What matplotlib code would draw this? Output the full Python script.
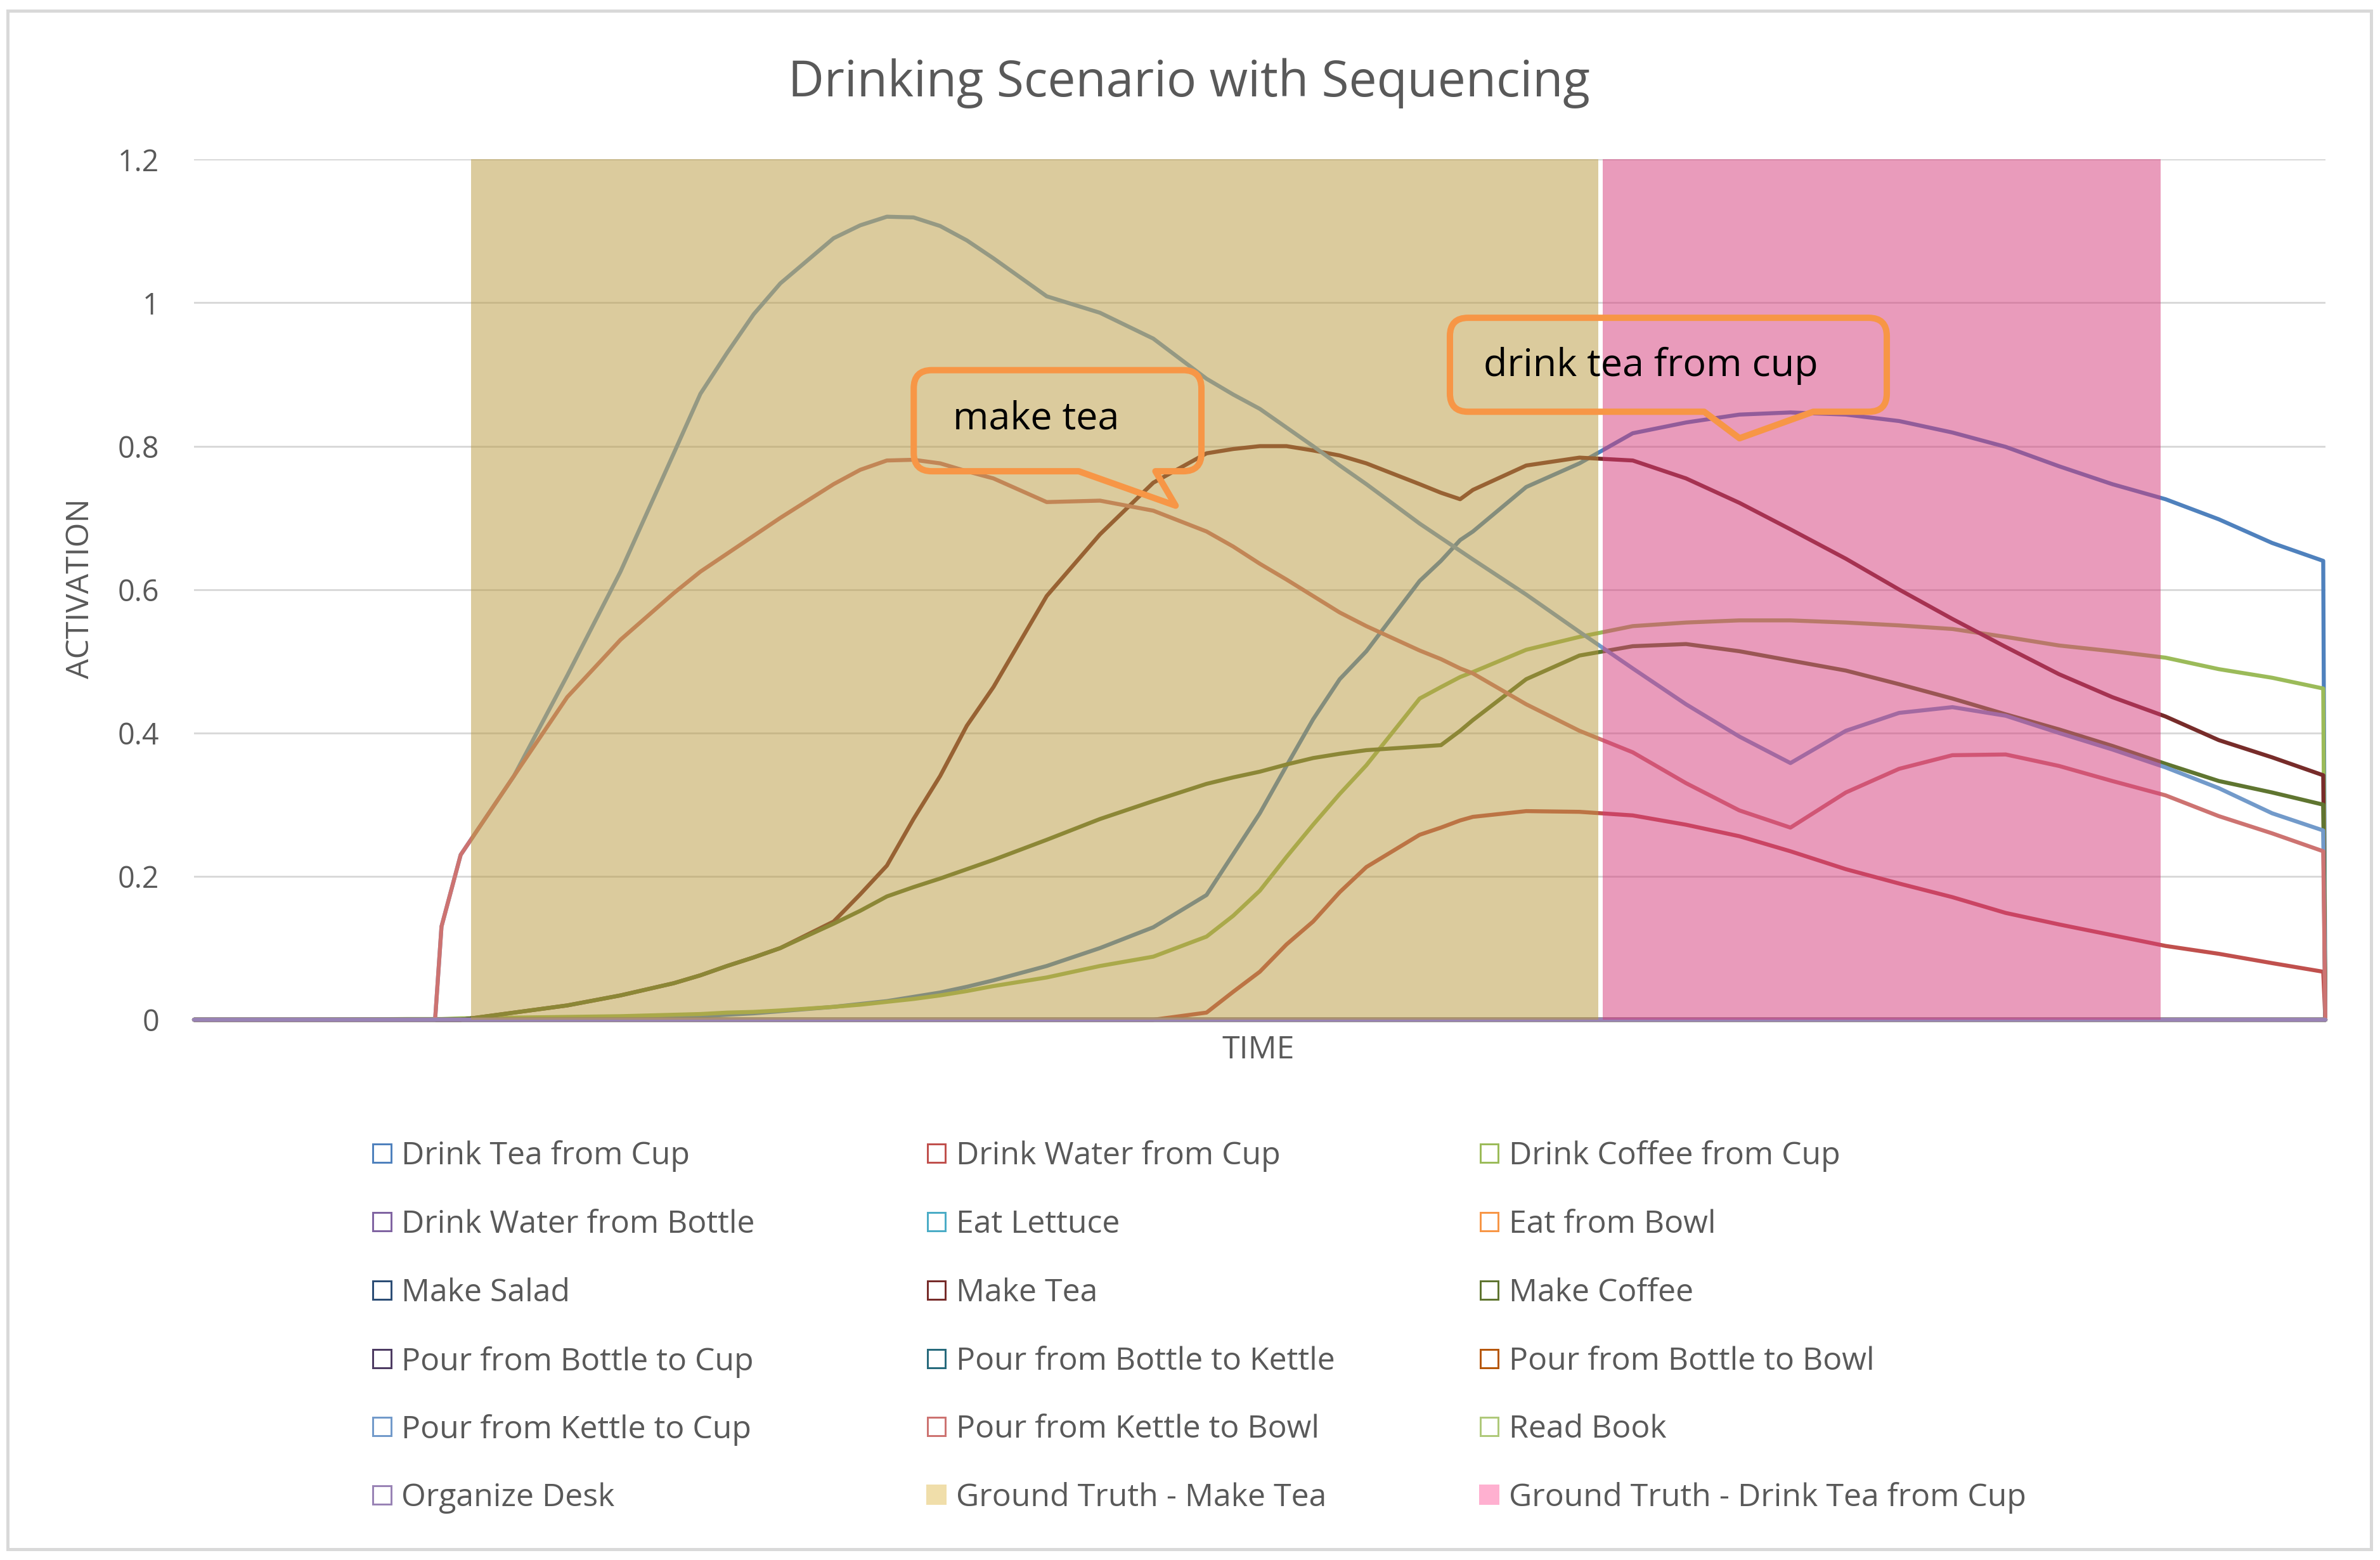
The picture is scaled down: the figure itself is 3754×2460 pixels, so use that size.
import numpy as np
import matplotlib
matplotlib.use('agg')
import matplotlib.pyplot as plt
from matplotlib.patches import Rectangle, PathPatch
from matplotlib.path import Path

plt.rcParams['font.family'] = ['Open Sans', 'DejaVu Sans']

# time axis (arbitrary units, 0-100 across the run)
time = [0, 5, 10, 11.3, 11.6, 12.5,
        15, 17.5, 20, 22.5,
        23.75, 25, 26.25, 27.5,
        30, 31.25, 32.5, 33.75, 35, 36.25, 37.5,
        40, 42.5, 45, 47.5,
        48.75, 50, 51.25, 52.5, 53.75, 55,
        57.5, 58.5, 59.4, 60, 62.5, 65,
        67.5, 70, 72.5, 74.9, 77.5, 80, 82.5, 85, 87.5, 90, 92.5, 95, 97.5, 99.9, 100]

drink_tea_cup = [0, 0, 0, 0, 0, 0,
                 0, 0.001, 0.002, 0.004,
                 0.005, 0.007, 0.009, 0.012,
                 0.018, 0.022, 0.026, 0.032, 0.038, 0.046, 0.055,
                 0.075, 0.10, 0.129, 0.174,
                 0.231, 0.288, 0.354, 0.419, 0.475, 0.514,
                 0.612, 0.64, 0.669, 0.681, 0.743, 0.776,
                 0.818, 0.833, 0.844, 0.847, 0.844, 0.835, 0.819, 0.799, 0.772, 0.747, 0.726, 0.698, 0.665, 0.64, 0]
drink_water_cup = [0, 0, 0, 0, 0, 0,
                   0, 0, 0, 0,
                   0, 0, 0, 0,
                   0, 0, 0, 0, 0, 0, 0,
                   0, 0, 0, 0.01,
                   0.039, 0.067, 0.105, 0.137, 0.178, 0.213,
                   0.258, 0.268, 0.278, 0.283, 0.291, 0.29,
                   0.285, 0.272, 0.256, 0.235, 0.21, 0.19, 0.171, 0.149, 0.133, 0.118, 0.103, 0.092, 0.079, 0.067, 0]
drink_coffee_cup = [0, 0, 0.001, 0.001, 0.001, 0.002,
                    0.003, 0.004, 0.005, 0.007,
                    0.008, 0.01, 0.011, 0.013,
                    0.018, 0.021, 0.025, 0.029, 0.034, 0.04, 0.047,
                    0.059, 0.075, 0.088, 0.116,
                    0.145, 0.18, 0.227, 0.272, 0.315, 0.355,
                    0.448, 0.464, 0.478, 0.485, 0.516, 0.534,
                    0.549, 0.554, 0.557, 0.557, 0.554, 0.55, 0.545, 0.534, 0.522, 0.514, 0.505, 0.489, 0.477, 0.462, 0]
make_tea = [0, 0, 0, 0, 0, 0,
            0.01, 0.02, 0.034, 0.051,
            0.062, 0.075, 0.087, 0.10,
            0.137, 0.175, 0.215, 0.28, 0.34, 0.41, 0.464,
            0.591, 0.677, 0.749, 0.79,
            0.796, 0.80, 0.80, 0.794, 0.787, 0.776,
            0.747, 0.735, 0.726, 0.739, 0.773, 0.784,
            0.78, 0.755, 0.721, 0.684, 0.643, 0.60, 0.559, 0.52, 0.482, 0.45, 0.423, 0.39, 0.366, 0.341, 0]
make_coffee = [0, 0, 0, 0, 0, 0,
               0.01, 0.02, 0.034, 0.051,
               0.062, 0.075, 0.087, 0.10,
               0.134, 0.152, 0.172, 0.185, 0.197, 0.21, 0.223,
               0.251, 0.28, 0.305, 0.329,
               0.338, 0.346, 0.356, 0.365, 0.371, 0.376,
               0.381, 0.383, 0.403, 0.418, 0.475, 0.508,
               0.521, 0.524, 0.514, 0.501, 0.487, 0.468, 0.448, 0.426, 0.405, 0.382, 0.357, 0.333, 0.317, 0.30, 0]
pour_kettle_cup = [0, 0, 0, 0, 0.13, 0.23,
                   0.34, 0.48, 0.625, 0.79,
                   0.873, 0.93, 0.984, 1.027,
                   1.09, 1.108, 1.12, 1.119, 1.107, 1.087, 1.062,
                   1.009, 0.986, 0.95, 0.894,
                   0.872, 0.852, 0.826, 0.80, 0.773, 0.747,
                   0.692, 0.672, 0.654, 0.642, 0.593, 0.541,
                   0.49, 0.44, 0.395, 0.358, 0.403, 0.428, 0.436, 0.424, 0.40, 0.377, 0.352, 0.323, 0.288, 0.264, 0]
pour_kettle_bowl = [0, 0, 0, 0, 0.13, 0.23,
                    0.34, 0.45, 0.53, 0.595,
                    0.625, 0.65, 0.675, 0.70,
                    0.747, 0.767, 0.78, 0.781, 0.776, 0.765, 0.755,
                    0.722, 0.724, 0.71, 0.681,
                    0.66, 0.636, 0.614, 0.591, 0.568, 0.549,
                    0.515, 0.503, 0.49, 0.483, 0.44, 0.403,
                    0.373, 0.33, 0.292, 0.268, 0.317, 0.35, 0.369, 0.37, 0.354, 0.333, 0.313, 0.284, 0.26, 0.235, 0]
inactive = [0.0] * len(time)

series = [
    ('Drink Tea from Cup', drink_tea_cup, '#4F81BD'),
    ('Drink Water from Cup', drink_water_cup, '#C0504D'),
    ('Drink Coffee from Cup', drink_coffee_cup, '#9BBB59'),
    ('Drink Water from Bottle', inactive, '#8064A2'),
    ('Eat Lettuce', inactive, '#4BACC6'),
    ('Eat from Bowl', inactive, '#F79646'),
    ('Make Salad', inactive, '#2C4D75'),
    ('Make Tea', make_tea, '#772C2A'),
    ('Make Coffee', make_coffee, '#5F7530'),
    ('Pour from Bottle to Cup', inactive, '#4D3B62'),
    ('Pour from Bottle to Kettle', inactive, '#276A7C'),
    ('Pour from Bottle to Bowl', inactive, '#B65708'),
    ('Pour from Kettle to Cup', pour_kettle_cup, '#729ACA'),
    ('Pour from Kettle to Bowl', pour_kettle_bowl, '#CD7371'),
    ('Read Book', inactive, '#AFC97A'),
    ('Organize Desk', inactive, '#9983B5'),
]

# ground truth segments (start, end) and level
gt_make_tea = [12.98, 65.88]
gt_drink_tea = [66.08, 92.27]
gt_level = 1.2
gt_labels = [('Ground Truth - Make Tea', '#F0DEAA'),
             ('Ground Truth - Drink Tea from Cup', '#FFB0D0')]

grey = '#595959'

fig = plt.figure(figsize=(3754 / 240, 2460 / 240), dpi=240)
ax = fig.add_axes([128 / 1568, 1 - 672 / 1028, 1404 / 1568, 567 / 1028])

for label, vals, col in series:
    ax.plot(time, vals, color=col, lw=1.9, zorder=2, clip_on=False,
            solid_joinstyle='round', solid_capstyle='round')

ax.fill_between(gt_make_tea, 0, gt_level, color=(185 / 255, 153 / 255, 61 / 255),
                alpha=0.5, lw=0, zorder=3)
ax.fill_between(gt_drink_tea, 0, gt_level, color=(213 / 255, 57 / 255, 121 / 255),
                alpha=0.5, lw=0, zorder=3)

ax.set_xlim(0, 100)
ax.set_ylim(0, 1.2)
ax.set_yticks([0, 0.2, 0.4, 0.6, 0.8, 1.0, 1.2])
ax.set_yticklabels(['0', '0.2', '0.4', '0.6', '0.8', '1', '1.2'])
ax.set_xticks([])
ax.tick_params(axis='y', length=0, pad=16.5, labelsize=14, labelcolor=grey)
ax.grid(axis='y', color='#D9D9D9', lw=0.9, zorder=0)
ax.set_axisbelow(True)
for sp in ax.spines.values():
    sp.set_visible(False)


def callout(ax, left, right, top, bottom, base_a, tip, base_b, text, tx, ty):
    rx, ry = 0.85, 0.0254
    verts = [(left + rx, top), (right - rx, top), (right, top), (right, top - ry),
             (right, bottom + ry), (right, bottom), (right - rx, bottom),
             (base_b, bottom), tip, (base_a, bottom),
             (left + rx, bottom), (left, bottom), (left, bottom + ry),
             (left, top - ry), (left, top), (left + rx, top), (left + rx, top)]
    codes = [Path.MOVETO, Path.LINETO, Path.CURVE3, Path.CURVE3,
             Path.LINETO, Path.CURVE3, Path.CURVE3,
             Path.LINETO, Path.LINETO, Path.LINETO,
             Path.LINETO, Path.CURVE3, Path.CURVE3,
             Path.LINETO, Path.CURVE3, Path.CURVE3, Path.CLOSEPOLY]
    ax.add_patch(PathPatch(Path(verts, codes), fc='none', ec='#F79646', lw=3,
                           joinstyle='round', zorder=5, clip_on=False))
    ax.text(tx, ty, text, fontsize=18.3, color='black', va='center', ha='left', zorder=6)


callout(ax, 33.76, 47.26, 0.906, 0.765, 41.5, (46.05, 0.717), 45.1, 'make tea', 35.6, 0.838)
callout(ax, 58.92, 79.42, 0.979, 0.848, 70.85, (72.51, 0.811), 75.97, 'drink tea from cup', 60.5, 0.912)

fig.text(783.5 / 1568, 1 - 55 / 1028, 'Drinking Scenario with Sequencing', fontsize=23.5,
         color=grey, ha='center', va='center')
fig.text(53 / 1568, 1 - 388 / 1028, 'ACTIVATION', fontsize=15, color=grey,
         rotation=90, ha='center', va='center')
fig.text(829 / 1568, 1 - 692 / 1028, 'TIME', fontsize=15, color=grey, ha='center', va='center')

# legend laid out like the original, row by row in three columns
col_x = [245 / 1568, 610.3 / 1568, 974.5 / 1568]
row_y = [760, 805.2, 850.3, 895.5, 940.2, 985.0]
sw, sh = 13.3 / 1568, 13.3 / 1028
entries = [(lab, col, False) for lab, _, col in series] + [(lab, col, True) for lab, col in gt_labels]
for i, (lab, col, filled) in enumerate(entries):
    x0 = col_x[i % 3]
    yc = 1 - row_y[i // 3] / 1028
    if filled:
        fig.patches.append(Rectangle((x0, yc - sh / 2), sw, sh, transform=fig.transFigure,
                                     fc=col, ec='none', figure=fig))
    else:
        fig.patches.append(Rectangle((x0 + 0.0004, yc - sh / 2 + 0.0006), sw - 0.0008, sh - 0.0012,
                                     transform=fig.transFigure, fc='white', ec=col, lw=0.9, figure=fig))
    fig.text(x0 + 19.5 / 1568, yc - 2 / 1028, lab, fontsize=15, color=grey, ha='left', va='center')

fig.patches.append(Rectangle((5 / 1568, 1 - 1021 / 1028), 1557 / 1568, 1014 / 1028,
                             transform=fig.transFigure, fill=False, ec='#D9D9D9', lw=1.5, figure=fig))

fig.savefig('out.png', dpi=240)
